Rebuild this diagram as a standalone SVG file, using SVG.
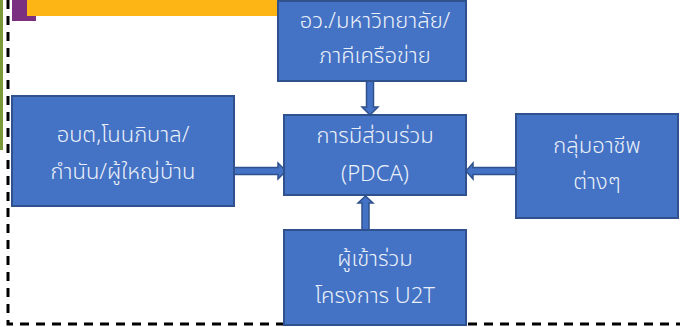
<svg xmlns="http://www.w3.org/2000/svg" width="680" height="327" viewBox="0 0 680 327">
<style>
.box{fill:#4472C4;stroke:#2F528F;stroke-width:2}
.arr{fill:#4472C4;stroke:#2F528F;stroke-width:1.5;stroke-linejoin:miter}
.t{font-family:"Noto Sans Thai","Leelawadee UI","Tahoma","Noto Sans","DejaVu Sans",sans-serif;font-size:22px;font-weight:300;fill:#EAF0F9;text-anchor:middle}
</style>
<rect x="0" y="0" width="680" height="327" fill="#ffffff"/>
<rect x="0" y="0" width="3" height="150" fill="#7a9a3a"/>
<g id="frame">
<path d="M8 0 V324 H680" fill="none" stroke="#000" stroke-width="3" stroke-dasharray="9,7"/>
</g>
<g id="header">
<rect x="12" y="0" width="24" height="21" fill="#7B2F80"/>
<rect x="27" y="0" width="251" height="16" fill="#FDB516"/>
</g>
<g id="connectors">
<path class="arr" d="M234 167.5 H278 V163 L286 171 L278 179 V174.5 H234 Z"/>
<path class="arr" d="M516 167.5 H473 V163 L466 171 L473 179 V174.5 H516 Z"/>
<path class="arr" d="M366.5 81 V107 H362 L370 115 L378 107 H373.5 V81 Z"/>
<path class="arr" d="M362 230 V203 H358 L365.5 196 L373 203 H369 V230 Z"/>
</g>
<g id="n-top">
<rect class="box" x="278" y="1" width="188" height="80"/>
<text class="t" x="375" y="28">อว./มหาวิทยาลัย/</text>
<text class="t" x="375" y="63">ภาคีเครือข่าย</text>
</g>
<g id="n-center">
<rect class="box" x="284" y="115" width="182" height="80"/>
<text class="t" x="375" y="143">การมีส่วนร่วม</text>
<text class="t" x="375" y="181">(PDCA)</text>
</g>
<g id="n-left">
<rect class="box" x="12" y="96" width="222" height="110"/>
<text class="t" x="123" y="142">อบต,โนนภิบาล/</text>
<text class="t" x="123" y="179">กำนัน/ผู้ใหญ่บ้าน</text>
</g>
<g id="n-right">
<rect class="box" x="516" y="114" width="162" height="104"/>
<text class="t" x="597" y="153">กลุ่มอาชีพ</text>
<text class="t" x="597" y="189">ต่างๆ</text>
</g>
<g id="n-bottom">
<rect class="box" x="284" y="230" width="182" height="95"/>
<text class="t" x="375" y="266">ผู้เข้าร่วม</text>
<text class="t" x="375" y="303">โครงการ U2T</text>
</g>
</svg>
